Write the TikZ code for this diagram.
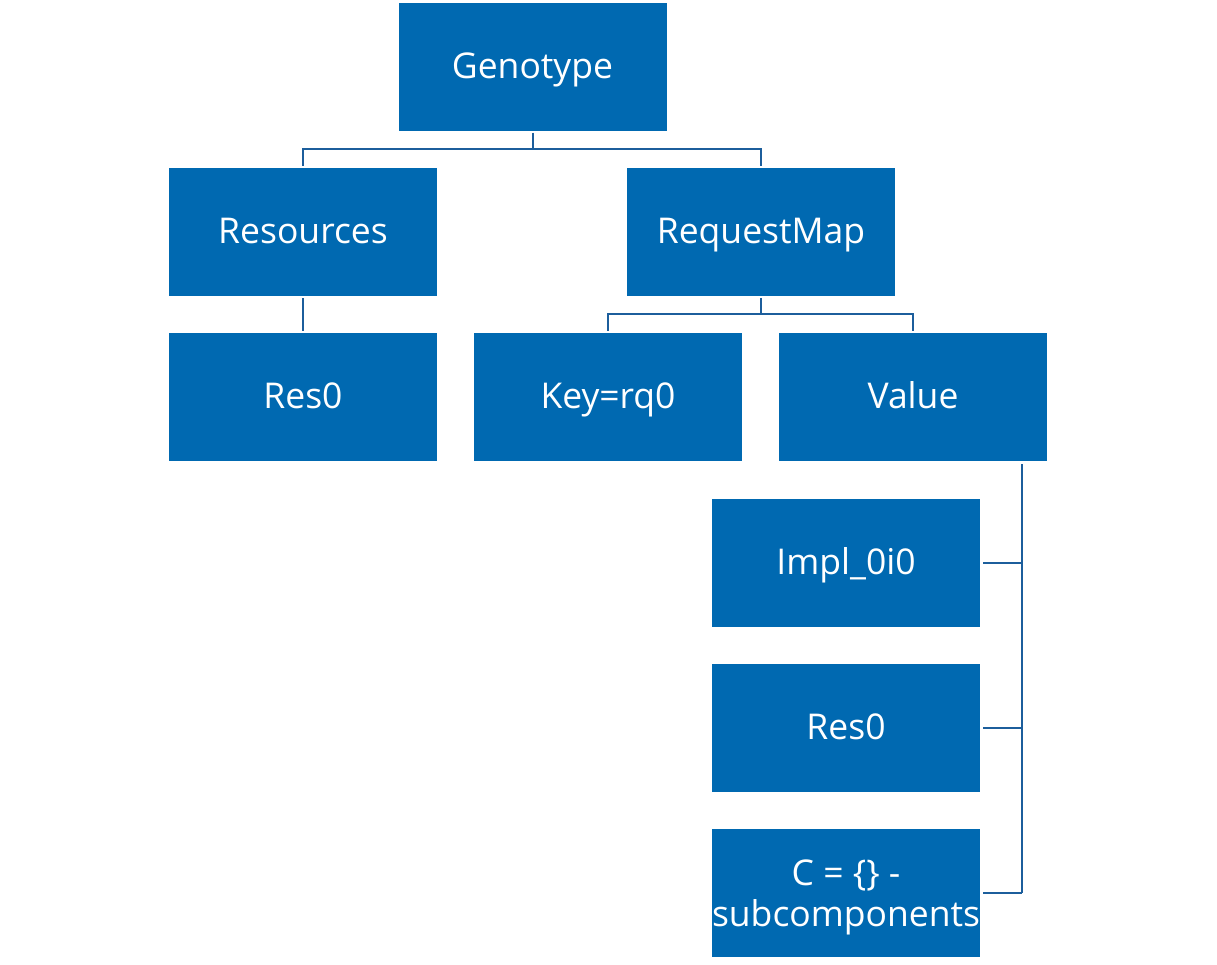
\documentclass[tikz,border=0pt]{standalone}
\usepackage{fontspec}
\setmainfont{Open Sans}
\definecolor{boxblue}{RGB}{0,105,177}
\definecolor{lineblue}{RGB}{28,94,156}
\begin{document}
\begin{tikzpicture}[x=1pt,y=-1pt,
  box/.style={fill=boxblue,draw=none,minimum width=268pt,minimum height=128pt,inner sep=0pt,
    text=white,font=\fontsize{35.5}{41}\selectfont,align=center},
  one/.style={text height=27pt,text depth=4pt},
  two/.style={text height=70pt,text depth=4pt},
  conn/.style={draw=lineblue,line width=2pt}]
\fill[white] (0,0) rectangle (1217,964);
\useasboundingbox (0,0) rectangle (1217,964);
\node[box,one] (g) at (532.5,66.5) {Genotype};
\node[box,one] (res) at (303,232) {Resources};
\node[box,one] (rm) at (761,232) {RequestMap};
\node[box,one] (r0) at (303,397) {Res0};
\node[box,one] (key) at (608,397) {Key=rq0};
\node[box,one] (val) at (913,397) {Value};
\node[box,one] (impl) at (846,562.5) {Impl\_0i0};
\node[box,one] (r0b) at (846,728) {Res0};
\node[box,two] (c) at (846,893) {C = \{\} -\\subcomponents};
\coordinate (bus1) at (0,149);
\coordinate (bus2) at (0,314);
\coordinate (vtop) at (1022,464);
% Genotype children
\draw[conn] ([yshift=-2pt]g.south) -- (g.south |- bus1);
\draw[conn] ([yshift=2pt]res.north) |- (rm.north |- bus1) -- ([yshift=2pt]rm.north);
% Resources child
\draw[conn] ([yshift=-2pt]res.south) -- ([yshift=2pt]r0.north);
% RequestMap children
\draw[conn] ([yshift=-2pt]rm.south) -- (rm.south |- bus2);
\draw[conn] ([yshift=2pt]key.north) |- (val.north |- bus2) -- ([yshift=2pt]val.north);
% Value children
\draw[conn] (vtop) -- (vtop |- c.east);
\draw[conn] ([xshift=3pt]impl.east) -- (impl.east -| vtop);
\draw[conn] ([xshift=3pt]r0b.east) -- (r0b.east -| vtop);
\draw[conn] ([xshift=3pt]c.east) -- (c.east -| vtop);
\end{tikzpicture}
\end{document}
